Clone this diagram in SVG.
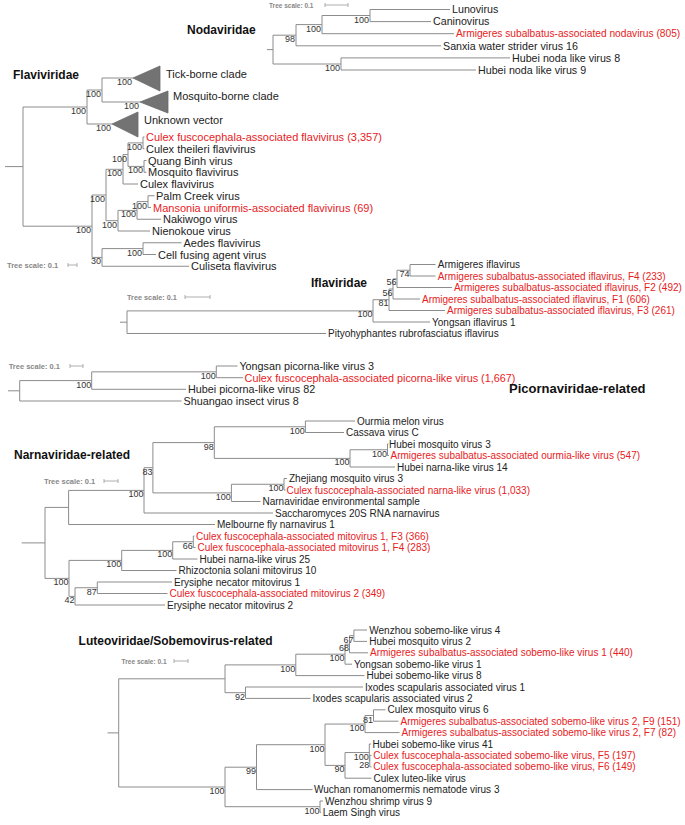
<svg xmlns="http://www.w3.org/2000/svg" width="685" height="825" viewBox="0 0 685 825">
<style>
.e{fill:none;stroke:#8c8c8c;stroke-width:1}
.t{font-family:"Liberation Sans",Arial,sans-serif;font-size:10px;fill:#222}
.t11{font-size:11px}
.tn{font-size:10.7px}
.tp{font-size:10.8px}
.r{fill:#e8211d}
.b{font-family:"Liberation Sans",Arial,sans-serif;font-size:9px;fill:#333;text-anchor:end}
.h{font-family:"Liberation Sans",Arial,sans-serif;font-size:12px;font-weight:bold;fill:#111}
.s{font-family:"Liberation Sans",Arial,sans-serif;font-size:7.5px;font-weight:bold;fill:#888}
.sb{fill:none;stroke:#999;stroke-width:0.8}
.tri{fill:#737373;stroke:#6a6a6a;stroke-width:0.8}
</style>
<rect width="685" height="825" fill="#fff"/>

<!-- ============ Nodaviridae ============ -->
<g id="panel-noda">
<text class="h" x="187" y="34">Nodaviridae</text>
<g id="noda-scale"><text class="s" x="269" y="7.5" style="font-size:6.5px">Tree scale: 0.1</text><path class="sb" d="M325 5H348M325 3V7M348 3V7"/></g>
<g id="noda-connectors"><path class="e" d="M267 49.6H273M273 35.2V64M273 35.2H296M296 24.6V45.8M296 24.6H322M322 15.5V33.7M322 15.5H370M370 9.5V21.6M370 9.5H450M370 21.6H431M322 33.7H454M296 45.8H441M273 64H341M341 57.9V70M341 57.9H510M341 70H476"/></g>
<g id="noda-support">
<text class="b" x="369" y="22.5">100</text>
<text class="b" x="321" y="31.6">100</text>
<text class="b" x="295" y="42.2">98</text>
<text class="b" x="340" y="71">100</text>
</g>
<g id="n-lunovirus"><text class="t tn" x="452" y="13.2">Lunovirus</text></g>
<g id="n-caninovirus"><text class="t tn" x="433" y="25.3">Caninovirus</text></g>
<g id="n-asa-nodavirus"><text class="t r" x="456" y="37.4" style="font-size:10.2px">Armigeres subalbatus-associated nodavirus (805)</text></g>
<g id="n-sanxia"><text class="t tn" x="443" y="49.5">Sanxia water strider virus 16</text></g>
<g id="n-hubei-noda8"><text class="t tn" x="512" y="61.6">Hubei noda like virus 8</text></g>
<g id="n-hubei-noda9"><text class="t tn" x="478" y="73.7">Hubei noda like virus 9</text></g>
</g>

<!-- ============ Flaviviridae ============ -->
<g id="panel-flavi">
<text class="h" x="13" y="79">Flaviviridae</text>
<g id="flavi-scale"><text class="s" x="7" y="267.5">Tree scale: 0.1</text><path class="sb" d="M68 265H77M68 263V267M77 263V267"/></g>
<g id="flavi-connectors"><path class="e" d="M5 166.6H23M23 107V226.2M23 107H87M87 90V124M87 90H102M102 78V102M102 78H133M102 102H140M87 124H112
M23 226.2H92M92 195V257.4M92 195H106M106 169.3V220.7M106 169.3H123M123 154.6V184M123 154.6H128M128 142.9V166.4M128 142.9H143M143 137V148.75M143 137H144.5M143 148.75H144.5M128 166.4H144M144 160.5V172.25M144 160.5H146.5M144 172.25H146.5M123 184H138
M106 220.7H118M118 210.4V231M118 210.4H137M137 201.6V219.25M137 201.6H148M148 195.75V207.5M148 195.75H154.5M148 207.5H151M137 219.25H161M118 231H150
M92 257.4H102M102 248.6V266.25M102 248.6H143M143 242.75V254.5M143 242.75H181.5M143 254.5H156M102 266.25H189"/></g>
<g id="flavi-support">
<text class="b" x="86" y="114">100</text>
<text class="b" x="101" y="97">100</text>
<text class="b" x="132" y="85">100</text>
<text class="b" x="139" y="109">100</text>
<text class="b" x="111" y="131">100</text>
<text class="b" x="91" y="233.2">100</text>
<text class="b" x="105" y="202">100</text>
<text class="b" x="122" y="176.3">100</text>
<text class="b" x="127" y="161.6">100</text>
<text class="b" x="142" y="149.9">100</text>
<text class="b" x="143" y="173.4">100</text>
<text class="b" x="117" y="227.7">100</text>
<text class="b" x="136" y="217.4">100</text>
<text class="b" x="147" y="208.6">100</text>
<text class="b" x="101" y="264.4">30</text>
<text class="b" x="142" y="255.6">100</text>
</g>
<g id="f-tick"><polygon class="tri" points="133,78 160,66 160,91"/><text class="t t11" x="166" y="78">Tick-borne clade</text></g>
<g id="f-mosquito"><polygon class="tri" points="140,102 168,91 168,113"/><text class="t t11" x="173" y="100">Mosquito-borne clade</text></g>
<g id="f-unknown"><polygon class="tri" points="112,124 138,112 138,137"/><text class="t t11" x="144" y="124">Unknown vector</text></g>
<g id="f-cfa-flavi"><text class="t t11 r" x="146" y="141">Culex fuscocephala-associated flavivirus (3,357)</text></g>
<g id="f-theileri"><text class="t t11" x="146" y="152.75">Culex theileri flavivirus</text></g>
<g id="f-quangbinh"><text class="t t11" x="148" y="164.5">Quang Binh virus</text></g>
<g id="f-mosqflavi"><text class="t t11" x="148" y="176.25">Mosquito flavivirus</text></g>
<g id="f-culexflavi"><text class="t t11" x="140" y="188">Culex flavivirus</text></g>
<g id="f-palmcreek"><text class="t t11" x="156" y="199.75">Palm Creek virus</text></g>
<g id="f-mansonia"><text class="t t11 r" x="153" y="211.5">Mansonia uniformis-associated flavivirus (69)</text></g>
<g id="f-nakiwogo"><text class="t t11" x="163" y="223.25">Nakiwogo virus</text></g>
<g id="f-nienokoue"><text class="t t11" x="152" y="235">Nienokoue virus</text></g>
<g id="f-aedes"><text class="t t11" x="183.5" y="246.75">Aedes flavivirus</text></g>
<g id="f-cfav"><text class="t t11" x="158" y="258.5">Cell fusing agent virus</text></g>
<g id="f-culiseta"><text class="t t11" x="191" y="270.25">Culiseta flavivirus</text></g>
</g>

<!-- ============ Iflaviridae ============ -->
<g id="panel-ifla">
<text class="h" x="311" y="287">Iflaviridae</text>
<g id="ifla-scale"><text class="s" x="127" y="299.7" style="font-size:7.3px">Tree scale: 0.1</text><path class="sb" d="M185 297H210M185 295V299M210 295V299"/></g>
<g id="ifla-connectors"><path class="e" d="M120 322.2H127M127 310.9V333.5M127 310.9H373M373 299.7V322M373 299.7H389M389 289V310.5M389 289H393M393 278.9V299M393 278.9H397M397 270.25V287.5M397 270.25H410M410 264.5V276M410 264.5H435.5M410 276H435.5M397 287.5H452M393 299H420M389 310.5H445M373 322H430M127 333.5H326"/></g>
<g id="ifla-support">
<text class="b" x="372.5" y="317.4">100</text>
<text class="b" x="388.5" y="306.2">81</text>
<text class="b" x="392.5" y="295.5">56</text>
<text class="b" x="396.5" y="285.4">56</text>
<text class="b" x="409.5" y="276.7">74</text>
</g>
<g id="i-armigeres"><text class="t" x="437.8" y="268">Armigeres iflavirus</text></g>
<g id="i-f4"><text class="t r" x="437.8" y="279.5">Armigeres subalbatus-associated iflavirus, F4 (233)</text></g>
<g id="i-f2"><text class="t r" x="454" y="291">Armigeres subalbatus-associated iflavirus, F2 (492)</text></g>
<g id="i-f1"><text class="t r" x="422" y="302.5">Armigeres subalbatus-associated iflavirus, F1 (606)</text></g>
<g id="i-f3"><text class="t r" x="447" y="314">Armigeres subalbatus-associated iflavirus, F3 (261)</text></g>
<g id="i-yongsan"><text class="t" x="432" y="325.5">Yongsan iflavirus 1</text></g>
<g id="i-pityo"><text class="t" x="328" y="337">Pityohyphantes rubrofasciatus iflavirus</text></g>
</g>

<!-- ============ Picornaviridae-related ============ -->
<g id="panel-picorna">
<text class="h" x="509" y="393" style="font-size:13px">Picornaviridae-related</text>
<g id="picorna-scale"><text class="s" x="8.7" y="368.7">Tree scale: 0.1</text><path class="sb" d="M70 366H83M70 364V368M83 364V368"/></g>
<g id="picorna-connectors"><path class="e" d="M8 390.8H19.7M19.7 380.6V401M19.7 380.6H91.7M91.7 371.85V389.3M91.7 371.85H216.3M216.3 366V377.7M216.3 366H237.5M216.3 377.7H243M91.7 389.3H186M19.7 401H181.5"/></g>
<g id="picorna-support">
<text class="b" x="215.8" y="378.8">100</text>
<text class="b" x="91.2" y="387.6">100</text>
</g>
<g id="p-yongsan3"><text class="t tp" x="239.4" y="369.8">Yongsan picorna-like virus 3</text></g>
<g id="p-cfa-picorna"><text class="t tp r" x="244.6" y="381.5">Culex fuscocephala-associated picorna-like virus (1,667)</text></g>
<g id="p-hubei82"><text class="t tp" x="188" y="393.1">Hubei picorna-like virus 82</text></g>
<g id="p-shuangao8"><text class="t tp" x="183.5" y="404.8">Shuangao insect virus 8</text></g>
</g>

<!-- ============ Narnaviridae-related ============ -->
<g id="panel-narna">
<text class="h" x="14" y="459">Narnaviridae-related</text>
<g id="narna-scale"><text class="s" x="44" y="483.5">Tree scale: 0.1</text><path class="sb" d="M104 481H118M104 479V483M118 479V483"/></g>
<g id="narna-connectors"><path class="e" d="M21.7 542.9H45M45 507.4V578.4M45 507.4H68.6M68.6 490.4V524.5M68.6 524.5H215
M68.6 490.4H144M144 467.7V513M144 513H273M144 467.7H152.9M152.9 442.6V492.9M152.9 442.6H214.3M214.3 426.75V458.4
M214.3 426.75H305.4M305.4 421V432.5M305.4 421H355M305.4 432.5H344
M214.3 458.4H350M350 449.75V467M350 467H395M350 449.75H387.5M387.5 444V455.5M387.5 444H388.6M387.5 455.5H389
M152.9 492.9H231.4M231.4 484.25V501.5M231.4 501.5H260.5M231.4 484.25H284M284 478.5V490M284 478.5H287M284 490H285.5
M45 578.4H69M69 560.4V596.4M69 560.4H121.7M121.7 550.4V570.5M121.7 570.5H176.5M121.7 550.4H172.7M172.7 541.75V559M172.7 559H197.5M172.7 541.75H193.3M193.3 536V547.5M193.3 536H194.5M193.3 547.5H195.5
M69 596.4H75M75 587.75V605M75 605H165M75 587.75H97.3M97.3 582V593.5M97.3 582H172M97.3 593.5H167.5"/></g>
<g id="narna-support">
<text class="b" x="143.5" y="497.4">100</text>
<text class="b" x="152.4" y="474.7">83</text>
<text class="b" x="213.8" y="449.6">98</text>
<text class="b" x="304.9" y="433.75">100</text>
<text class="b" x="349.5" y="465.4">100</text>
<text class="b" x="387" y="456.75">100</text>
<text class="b" x="230.9" y="499.9">100</text>
<text class="b" x="283.5" y="491.25">100</text>
<text class="b" x="68.5" y="585.4">100</text>
<text class="b" x="121.2" y="567.4">100</text>
<text class="b" x="172.2" y="557.4">100</text>
<text class="b" x="192.8" y="548.75">66</text>
<text class="b" x="74.5" y="603.4">42</text>
<text class="b" x="96.8" y="594.75">87</text>
</g>
<g id="r-ourmia"><text class="t" x="357" y="424.5">Ourmia melon virus</text></g>
<g id="r-cassava"><text class="t" x="346" y="436">Cassava virus C</text></g>
<g id="r-hubeimosq3"><text class="t" x="389" y="447.5">Hubei mosquito virus 3</text></g>
<g id="r-asa-ourmia"><text class="t r" x="390.5" y="459">Armigeres subalbatus-associated ourmia-like virus (547)</text></g>
<g id="r-hubeinarna14"><text class="t" x="397" y="470.5">Hubei narna-like virus 14</text></g>
<g id="r-zhejiang3"><text class="t" x="289" y="482">Zhejiang mosquito virus 3</text></g>
<g id="r-cfa-narna"><text class="t r" x="286.5" y="493.5">Culex fuscocephala-associated narna-like virus (1,033)</text></g>
<g id="r-env"><text class="t" x="262.5" y="505">Narnaviridae environmental sample</text></g>
<g id="r-saccharomyces"><text class="t" x="275" y="516.5">Saccharomyces 20S RNA narnavirus</text></g>
<g id="r-melbourne"><text class="t" x="217" y="528">Melbourne fly narnavirus 1</text></g>
<g id="r-mito1-f3"><text class="t r" x="196" y="539.5">Culex fuscocephala-associated mitovirus 1, F3 (366)</text></g>
<g id="r-mito1-f4"><text class="t r" x="197.5" y="551">Culex fuscocephala-associated mitovirus 1, F4 (283)</text></g>
<g id="r-hubeinarna25"><text class="t" x="199.5" y="562.5">Hubei narna-like virus 25</text></g>
<g id="r-rhizoctonia"><text class="t" x="178.5" y="574">Rhizoctonia solani mitovirus 10</text></g>
<g id="r-erysiphe1"><text class="t" x="174" y="585.5">Erysiphe necator mitovirus 1</text></g>
<g id="r-mito2"><text class="t r" x="169.5" y="597">Culex fuscocephala-associated mitovirus 2 (349)</text></g>
<g id="r-erysiphe2"><text class="t" x="167" y="608.5">Erysiphe necator mitovirus 2</text></g>
</g>

<!-- ============ Luteoviridae/Sobemovirus-related ============ -->
<g id="panel-luteo">
<text class="h" x="78.6" y="645">Luteoviridae/Sobemovirus-related</text>
<g id="luteo-scale"><text class="s" x="121.5" y="663.5" style="font-size:6.6px">Tree scale: 0.1</text><path class="sb" d="M174 661H188M174 659V663M188 659V663"/></g>
<g id="luteo-connectors"><path class="e" d="M107.5 732.9H118.7M118.7 678.8V787M118.7 678.8H225M225 664.9V692.7
M225 664.9H295.8M295.8 654.2V675.6M295.8 675.6H364.5M295.8 654.2H345M345 644.25V664.2M345 664.2H352M345 644.25H349.5M349.5 635.7V652.8M349.5 652.8H368M349.5 635.7H353.9M353.9 630V641.4M353.9 630H367M353.9 641.4H367
M225 692.7H245.5M245.5 687V698.4M245.5 687H363M245.5 698.4H310.5
M118.7 787H225M225 767.2V806.7M225 767.2H256.5M256.5 744.7V789.6M256.5 789.6H312.5M256.5 744.7H325M325 724.05V765.4
M325 724.05H365M365 715.5V732.6M365 732.6H399.5M365 715.5H373.5M373.5 709.8V721.2M373.5 709.8H385.5M373.5 721.2H398.5
M325 765.4H345M345 752.55V778.2M345 778.2H371.5M345 752.55H369.3M369.3 744V761.1M369.3 744H371M369.3 761.1H369.8M369.8 755.4V766.8M369.8 755.4H371.5M369.8 766.8H371.5
M225 806.7H320M320 801V812.4M320 801H323M320 812.4H321"/></g>
<g id="luteo-support">
<text class="b" x="295.3" y="671.9">100</text>
<text class="b" x="344.5" y="661.2">100</text>
<text class="b" x="349" y="651.25">68</text>
<text class="b" x="353.4" y="642.7">67</text>
<text class="b" x="245" y="699.7">92</text>
<text class="b" x="224.5" y="794">100</text>
<text class="b" x="256" y="774.2">99</text>
<text class="b" x="324.5" y="751.7">100</text>
<text class="b" x="364.5" y="731">100</text>
<text class="b" x="373" y="722.5">81</text>
<text class="b" x="344.5" y="772.4">90</text>
<text class="b" x="368.8" y="759.5">100</text>
<text class="b" x="369.3" y="768">28</text>
<text class="b" x="319.5" y="813.7">100</text>
</g>
<g id="l-wenzhou4"><text class="t" x="369.3" y="633.5">Wenzhou sobemo-like virus 4</text></g>
<g id="l-hubeimosq2"><text class="t" x="369.3" y="644.9">Hubei mosquito virus 2</text></g>
<g id="l-asa-sobemo1"><text class="t r" x="370" y="656.3">Armigeres subalbatus-associated sobemo-like virus 1 (440)</text></g>
<g id="l-yongsan1"><text class="t" x="354" y="667.7">Yongsan sobemo-like virus 1</text></g>
<g id="l-hubei8"><text class="t" x="366.5" y="679.1">Hubei sobemo-like virus 8</text></g>
<g id="l-ixodes1"><text class="t" x="365" y="690.5">Ixodes scapularis associated virus 1</text></g>
<g id="l-ixodes2"><text class="t" x="312.5" y="701.9">Ixodes scapularis associated virus 2</text></g>
<g id="l-culexmosq6"><text class="t" x="387.5" y="713.3">Culex mosquito virus 6</text></g>
<g id="l-f9"><text class="t r" x="400.5" y="724.7">Armigeres subalbatus-associated sobemo-like virus 2, F9 (151)</text></g>
<g id="l-f7"><text class="t r" x="401.5" y="736.1">Armigeres subalbatus-associated sobemo-like virus 2, F7 (82)</text></g>
<g id="l-hubei41"><text class="t" x="372.5" y="747.5">Hubei sobemo-like virus 41</text></g>
<g id="l-f5"><text class="t r" x="373.3" y="758.9">Culex fuscocephala-associated sobemo-like virus, F5 (197)</text></g>
<g id="l-f6"><text class="t r" x="373.3" y="770.3">Culex fuscocephala-associated sobemo-like virus, F6 (149)</text></g>
<g id="l-culexluteo"><text class="t" x="373.5" y="781.7">Culex luteo-like virus</text></g>
<g id="l-wuchan"><text class="t" x="314" y="793.1">Wuchan romanomermis nematode virus 3</text></g>
<g id="l-wenzhoushrimp9"><text class="t" x="325" y="804.5">Wenzhou shrimp virus 9</text></g>
<g id="l-laemsingh"><text class="t" x="322.7" y="815.9">Laem Singh virus</text></g>
</g>
</svg>
